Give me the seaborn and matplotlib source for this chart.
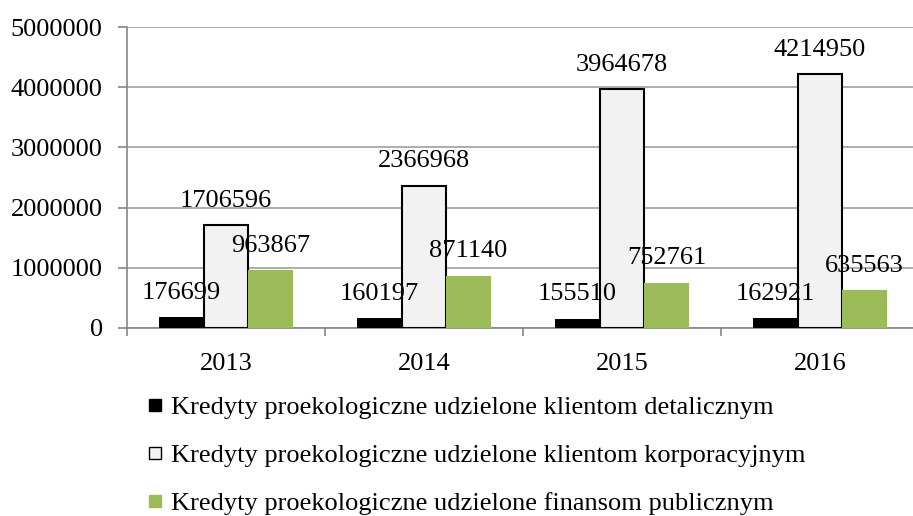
import matplotlib
matplotlib.use('Agg')
from matplotlib import pyplot as plt
from matplotlib.lines import Line2D
import pandas as pd
import seaborn as sns

years = ['2013', '2014', '2015', '2016']
detal = [176699, 160197, 155510, 162921]
korpo = [1706596, 2366968, 3964678, 4214950]
finanse = [963867, 871140, 752761, 635563]
series = ['Kredyty proekologiczne udzielone klientom detalicznym',
          'Kredyty proekologiczne udzielone klientom korporacyjnym',
          'Kredyty proekologiczne udzielone finansom publicznym']
colors = ['#000000', '#F2F2F2', '#9BBB59']

df = pd.DataFrame({'Rok': years * 3,
                   'Seria': [series[0]] * 4 + [series[1]] * 4 + [series[2]] * 4,
                   'Wartosc': detal + korpo + finanse})

sns.set_style('white')
plt.rcParams['font.family'] = ['Liberation Serif', 'DejaVu Serif']
plt.rcParams['text.color'] = 'black'
plt.rcParams['xtick.labelcolor'] = 'black'
plt.rcParams['ytick.labelcolor'] = 'black'
fs = 19

fig = plt.figure(figsize=(9.13, 5.16), dpi=100)
ax = fig.add_axes([127 / 913, 1 - 328 / 516, 792 / 913, 301 / 516])

sns.barplot(data=df, x='Rok', y='Wartosc', hue='Seria', palette=colors,
            width=0.675, saturation=1, ax=ax, legend=False, zorder=3)

# gray bars get a black outline
for i, cont in enumerate(ax.containers):
    for p in cont:
        if i == 1:
            p.set_edgecolor('black')
            p.set_linewidth(1.5)
        else:
            p.set_linewidth(0)
    ax.bar_label(cont, labels=[str(v) for v in [detal, korpo, finanse][i]],
                 padding=9.5, fontsize=fs, color='black', zorder=5)

ax.set_ylim(0, 5000000)
ax.set_xlim(-0.5, 3.5)
ax.set_yticks(range(0, 5000001, 1000000))
ax.set_yticklabels([str(v) for v in range(0, 5000001, 1000000)])
ax.grid(axis='y', color='#A0A0A0', linewidth=1.2, zorder=0)
ax.set_xlabel('')
ax.set_ylabel('')

for s in ['top', 'right']:
    ax.spines[s].set_visible(False)
for s in ['left', 'bottom']:
    ax.spines[s].set_color('#868686')
    ax.spines[s].set_linewidth(1.2)

ax.tick_params(axis='y', length=6.5, width=1.2, color='#868686', pad=11,
               labelsize=fs, left=True)
ax.tick_params(axis='x', which='major', length=0, pad=18, labelsize=fs)
ax.set_xticks([-0.5, 0.5, 1.5, 2.5, 3.5], minor=True)
ax.tick_params(axis='x', which='minor', length=6, width=1.2, color='#868686',
               bottom=True)

handles = [Line2D([], [], marker='s', linestyle='', markersize=9,
                  markerfacecolor=c, markeredgecolor='black', markeredgewidth=1)
           for c in colors]
handles[2].set_markeredgecolor(colors[2])
fig.legend(handles, series, loc='upper left', bbox_to_anchor=(147 / 913, 1 - 396 / 516),
           frameon=False, fontsize=fs, handlelength=0.6, handletextpad=0.3,
           labelspacing=0.92, borderpad=0, borderaxespad=0)

fig.savefig('out.png', dpi=100)
